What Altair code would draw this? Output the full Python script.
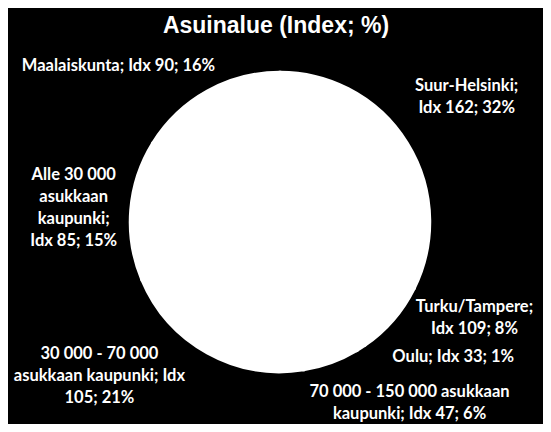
import textwrap
import altair as alt
import pandas as pd

# ---- data ----
categories = [
    "Suur-Helsinki",
    "Turku/Tampere",
    "Oulu",
    "70 000 - 150 000 asukkaan kaupunki",
    "30 000 - 70 000 asukkaan kaupunki",
    "Alle 30 000 asukkaan kaupunki",
    "Maalaiskunta",
]
shares = [32, 8, 1, 6, 21, 15, 16]
indices = [162, 109, 33, 47, 105, 85, 90]
title_text = "Asuinalue (Index; %)"

# ---- label styling: wrap width and pixel nudge (dx, dy) per label ----
wrap_widths = [14, 14, 40, 25, 22, 11, 40]
nudges = [(4, -23), (32, -56), (57, -46), (56, -32), (-76, -56), (8, -30), (-57, 32)]
LABEL_R = 215
W, H = 526, 348

labels = [
    textwrap.fill(f"{c}; Idx {i}; {s}%", width=w, break_on_hyphens=False)
    for c, i, s, w in zip(categories, indices, shares, wrap_widths)
]

df = pd.DataFrame({
    "cat": categories,
    "share": shares,
    "idx": indices,
    "label": labels,
    "order": list(range(len(categories))),
})

base = alt.Chart(df)

pie = base.mark_arc(outerRadius=150, fill="white", stroke="white", strokeWidth=2.5).encode(
    theta=alt.Theta("share:Q", stack=True),
    order=alt.Order("order:Q"),
    x=alt.value(W / 2),
    y=alt.value(H / 2),
)

text_base = base.transform_window(
    cum="sum(share)", sort=[alt.SortField("order")], frame=[None, 0]
).transform_calculate(
    mid="datum.cum - datum.share / 2"
)

layers = [pie]
for cat, (dx, dy) in zip(categories, nudges):
    layers.append(
        text_base.transform_filter(alt.datum.cat == cat).mark_text(
            radius=LABEL_R, dx=dx, dy=dy, font="Lato", fontWeight="bold",
            fontSize=16.5, lineHeight=22, color="white", align="center",
            baseline="middle", lineBreak="\n",
        ).encode(
            theta=alt.Theta("mid:Q", stack=None),
            text="label:N",
            x=alt.value(W / 2),
            y=alt.value(H / 2),
        )
    )

chart = alt.layer(*layers).properties(
    width=W,
    height=H,
    padding={"left": 9, "right": 0, "top": 40, "bottom": 28},
    autosize=alt.AutoSizeParams(type="none"),
    background="black",
    title=alt.TitleParams(
        title_text, font="Liberation Sans", fontSize=23, fontWeight="bold",
        color="white", anchor="middle", offset=10, dx=-4,
    ),
).configure_view(stroke=None)

chart.save("out.html", embed_options={"renderer": "svg", "actions": False})
